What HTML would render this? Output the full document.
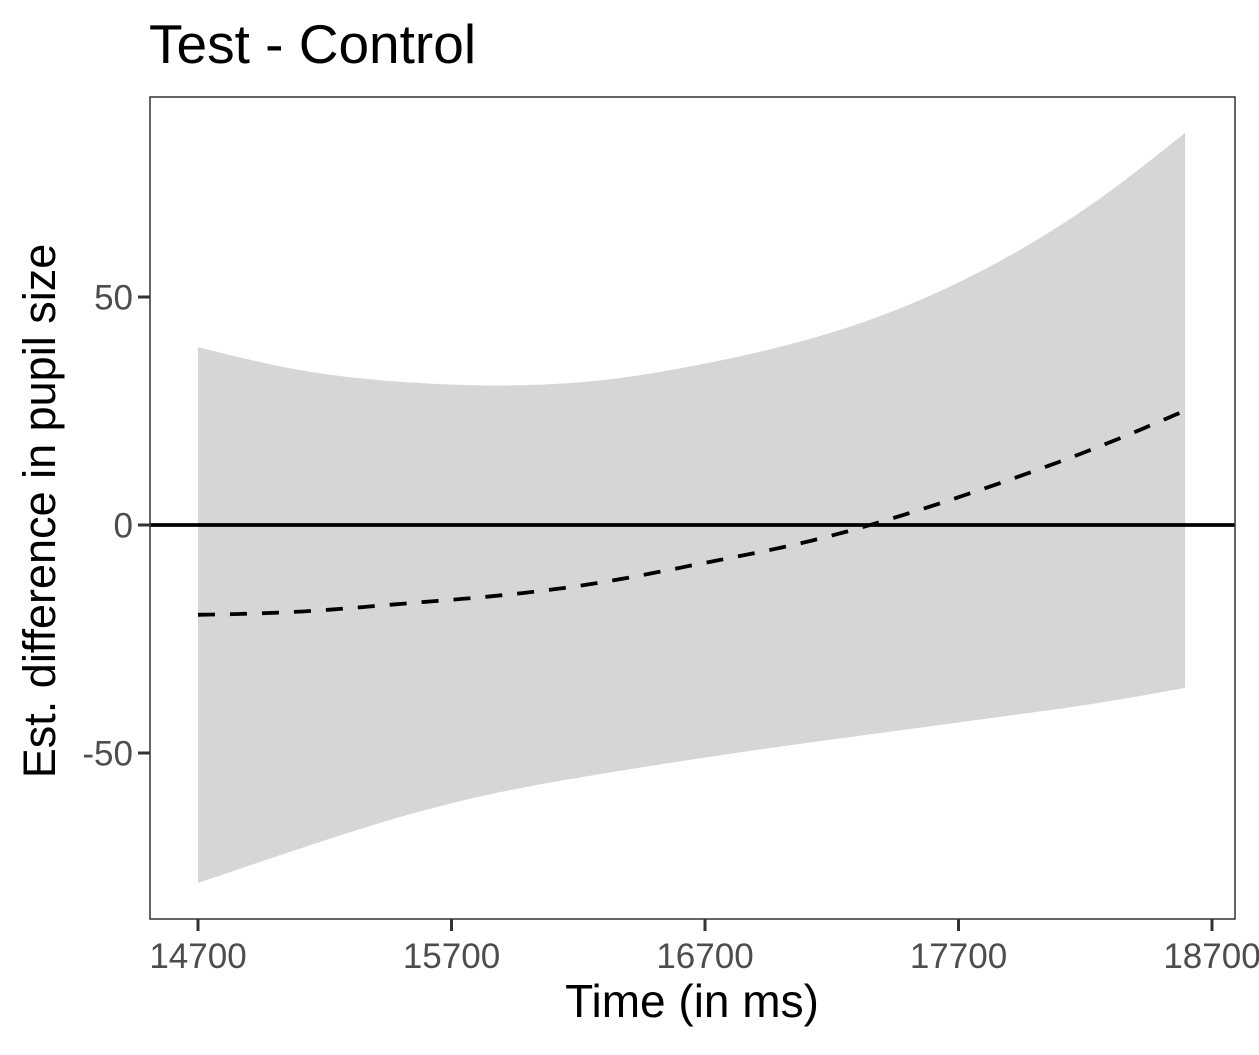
<!DOCTYPE html>
<html><head><meta charset="utf-8"><style>
body{margin:0;background:#fff;}
svg text{font-family:"Liberation Sans",Arial,sans-serif;}
</style></head><body>
<svg id="chart" width="1259" height="1050" viewBox="0 0 1259 1050">
<rect width="1259" height="1050" fill="#fff"/>
<text x="149" y="63" font-size="55" fill="#000">Test - Control</text>
<g id="plot"></g>
<rect x="150" y="97" width="1085" height="822" fill="none" stroke="#333" stroke-width="1.5"/>
<text x="692" y="1017" font-size="46" text-anchor="middle">Time (in ms)</text>
<text transform="translate(55,511) rotate(-90)" font-size="45" text-anchor="middle">Est. difference in pupil size</text>
</svg>
<script>
const times=[14700,15100,15500,15900,16300,16700,17100,17500,17900,18300,18594];
const upper=[39,34,31.4,30.6,31.8,35.4,40.6,48.2,59,73.3,86];
const lower=[-78.5,-71,-64,-58.5,-54.5,-51,-47.8,-44.8,-41.8,-38.6,-35.7];
const estimate=[-19.7,-19,-17.3,-15.4,-12.5,-8.3,-3.7,2.5,9.9,18.2,25.1];
const xTicks=[14700,15700,16700,17700,18700];
const yTicks=[50,0,-50];
const NS="http://www.w3.org/2000/svg";
const X=v=>198+(v-14700)*0.2535;
const Y=v=>525-v*4.56;
const g=document.getElementById('plot');
const svg=document.getElementById('chart');
function mk(t,a,p){const e=document.createElementNS(NS,t);for(const k in a)e.setAttribute(k,a[k]);(p||g).appendChild(e);return e;}
function spline(xs,ys){
  const n=xs.length,h=[],al=[],l=[1],mu=[0],z=[0],c=new Array(n).fill(0),b=[],d=[];
  for(let i=0;i<n-1;i++)h.push(xs[i+1]-xs[i]);
  for(let i=1;i<n-1;i++)al[i]=3/h[i]*(ys[i+1]-ys[i])-3/h[i-1]*(ys[i]-ys[i-1]);
  for(let i=1;i<n-1;i++){l[i]=2*(xs[i+1]-xs[i-1])-h[i-1]*mu[i-1];mu[i]=h[i]/l[i];z[i]=(al[i]-h[i-1]*z[i-1])/l[i];}
  for(let j=n-2;j>=0;j--){c[j]=(j>0?z[j]:0)-mu[j]*c[j+1];b[j]=(ys[j+1]-ys[j])/h[j]-h[j]*(c[j+1]+2*c[j])/3;d[j]=(c[j+1]-c[j])/(3*h[j]);}
  const pts=[];
  for(let j=0;j<n-1;j++){for(let k=0;k<20;k++){const dx=h[j]*k/20;pts.push([X(xs[j]+dx),Y(ys[j]+b[j]*dx+c[j]*dx*dx+d[j]*dx*dx*dx)]);}}
  pts.push([X(xs[n-1]),Y(ys[n-1])]);
  return pts;
}
const up=spline(times,upper);
const lo=spline(times,lower).reverse();
const band=mk('path',{d:'M'+up.concat(lo).map(p=>p[0].toFixed(1)+','+p[1].toFixed(1)).join(' L')+' Z',fill:'#d6d6d6'});


const zl=mk('line',{x1:150,x2:1235,y1:Y(0),y2:Y(0),stroke:'#000','stroke-width':3.8});


const ln=mk('path',{d:'M'+spline(times,estimate).map(p=>p[0].toFixed(1)+','+p[1].toFixed(1)).join(' L'),fill:'none',stroke:'#000','stroke-width':3.8,'stroke-dasharray':'17 15'});


xTicks.forEach(v=>{
  const t=mk('line',{x1:X(v),x2:X(v),y1:919,y2:931,stroke:'#333','stroke-width':3},svg);
  
  
  const l=mk('text',{x:X(v),y:968,'font-size':35,fill:'#4d4d4d','text-anchor':'middle'},svg);
  l.textContent=v;
  
  
});
yTicks.forEach(v=>{
  const t=mk('line',{x1:138,x2:150,y1:Y(v),y2:Y(v),stroke:'#333','stroke-width':3},svg);
  
  
  const l=mk('text',{x:133,y:Y(v)+12.5,'font-size':35,fill:'#4d4d4d','text-anchor':'end'},svg);
  l.textContent=v;
  
  
});
</script>
</body></html>
